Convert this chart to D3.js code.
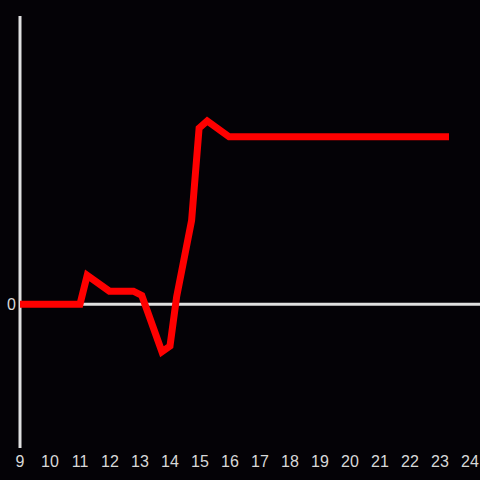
<!DOCTYPE html>
<html>
<head>
<meta charset="utf-8">
<script src="https://cdn.jsdelivr.net/npm/d3@7"></script>
<style>
  body { margin: 0; background: #040206; }
  svg { display: block; }
</style>
</head>
<body>
<svg id="chart"></svg>
<script>
// data
const xValues = [9, 11, 11.24, 11.98, 12.78, 13.06, 13.73, 14, 14.22, 14.72, 14.97, 15.24, 15.97, 23.3];
const yValues = [0, 0, 0.2, 0.09, 0.09, 0.06, -0.33, -0.29, 0.05, 0.58, 1.22, 1.27, 1.16, 1.16];
const xTicks = d3.range(9, 25);
const yTicks = [0];

const width = 480;
const height = 480;
const font = "'Liberation Sans Narrow', 'Liberation Sans', sans-serif";

const svg = d3.select("#chart").attr("width", width).attr("height", height);

svg.append("rect")
  .attr("width", width)
  .attr("height", height)
  .attr("fill", "#040206");

const x = d3.scaleLinear().domain([9, 24]).range([20, 470]);
const y = d3.scaleLinear().domain([-1, 2]).range([448.5, 15.5]);

// vertical axis line
svg.append("line")
  .attr("x1", x(9)).attr("x2", x(9))
  .attr("y1", 16).attr("y2", 448)
  .attr("stroke", "#e0e0e0")
  .attr("stroke-width", 3);

// zero line
svg.append("line")
  .attr("x1", x(9)).attr("x2", width)
  .attr("y1", y(0)).attr("y2", y(0))
  .attr("stroke", "#e0e0e0")
  .attr("stroke-width", 3);

// x tick labels
svg.append("g")
  .selectAll("text")
  .data(xTicks)
  .join("text")
  .attr("x", (d) => x(d))
  .attr("y", 466.5)
  .attr("text-anchor", "middle")
  .attr("fill", "#d8d8d8")
  .attr("font-family", font)
  .attr("font-size", 16)
  .text((d) => d);

// y tick labels
svg.append("g")
  .selectAll("text")
  .data(yTicks)
  .join("text")
  .attr("x", 16)
  .attr("y", (d) => y(d) + 6)
  .attr("text-anchor", "end")
  .attr("fill", "#d8d8d8")
  .attr("font-family", font)
  .attr("font-size", 16)
  .text((d) => d);

// series line
const line = d3.line()
  .x((d) => x(d[0]))
  .y((d) => y(d[1]));

svg.append("path")
  .datum(xValues.map((v, i) => [v, yValues[i]]))
  .attr("d", line)
  .attr("fill", "none")
  .attr("stroke", "#ff0000")
  .attr("stroke-width", 7)
  .attr("stroke-linejoin", "miter");
</script>
</body>
</html>
